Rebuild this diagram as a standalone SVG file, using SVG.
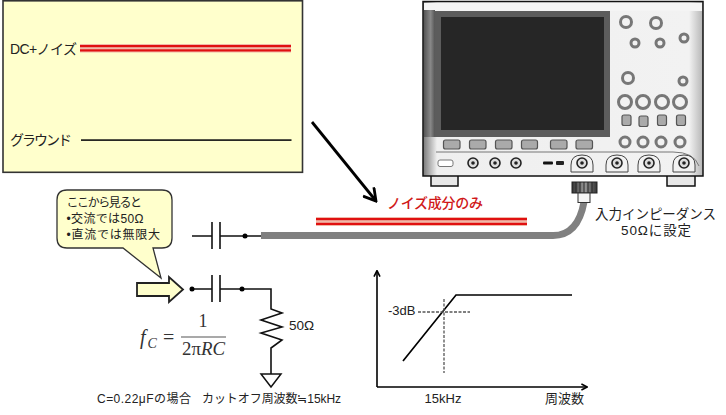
<svg xmlns="http://www.w3.org/2000/svg" width="726" height="415" viewBox="0 0 726 415">
<defs>
<linearGradient id="bodyG" x1="0" x2="1" y1="0" y2="0"><stop offset="0" stop-color="#777"/><stop offset="0.05" stop-color="#efefef"/><stop offset="0.95" stop-color="#f2f2f2"/><stop offset="1" stop-color="#b5b5b5"/></linearGradient>
<linearGradient id="stripG" x1="0" x2="1" y1="0" y2="0"><stop offset="0" stop-color="#555"/><stop offset="0.6" stop-color="#888"/><stop offset="1" stop-color="#555"/></linearGradient>
<linearGradient id="knurlG" x1="0" x2="1" y1="0" y2="0"><stop offset="0" stop-color="#333"/><stop offset="0.5" stop-color="#999"/><stop offset="1" stop-color="#333"/></linearGradient>
<marker id="ah" markerWidth="8" markerHeight="8" refX="6.6" refY="4" orient="auto" markerUnits="userSpaceOnUse"><path d="M1 1 L7 4 L1 7" fill="none" stroke="#000" stroke-width="1.6"/></marker>
<marker id="big" viewBox="0 0 16 16" markerWidth="16" markerHeight="16" refX="14" refY="8" orient="auto" markerUnits="userSpaceOnUse"><path d="M2 1 L14 8 L2 15" fill="none" stroke="#000" stroke-width="2.8"/></marker>
</defs>
<style>
text{font-family:"Liberation Sans","Noto Sans CJK JP",sans-serif;fill:#222}
.t12{font-size:12px}.t13{font-size:13px}.t14{font-size:14px}
.cjk{font-family:"Noto Sans CJK JP",sans-serif}
.math{font-family:"Liberation Serif","DejaVu Serif",serif;font-size:20px;fill:#333}
.w{fill:none;stroke:#111;stroke-width:1.6}
.b{fill:#aaa;stroke:#555;stroke-width:1.2}
.dot{fill:#000}
.r{fill:#e01010}
.rb{fill:#f0b8a8}
.d{fill:none;stroke:#555;stroke-width:1.3;stroke-dasharray:3 1.5}
.bnc{fill:#f2f2f2;stroke:#444;stroke-width:1}
</style>
<g id="panel">
<rect x="3" y="0.8" width="299.5" height="171.5" fill="#ffffcc" stroke="#333" stroke-width="1.6"/>
<rect class="rb" x="80" y="44" width="211" height="8.5"/><rect class="r" x="80" y="45" width="211" height="2.2"/><rect class="r" x="80" y="49.3" width="211" height="2.2"/>
<rect x="81" y="139.3" width="210.500" height="1.6" fill="#111"/>
<text class="t14" x="10" y="54" textLength="67" lengthAdjust="spacing">DC+ノイズ</text>
<text class="t14" x="10" y="145" textLength="62" lengthAdjust="spacing">グラウンド</text>
</g>
<g id="scope">
<rect x="431" y="174" width="27" height="12" fill="#e8e8e8" stroke="#111" stroke-width="1.5"/>
<rect x="667" y="174" width="28" height="12" fill="#e8e8e8" stroke="#111" stroke-width="1.5"/>
<rect x="423" y="1.500" width="280" height="174.500" fill="url(#bodyG)" stroke="#111" stroke-width="1.5"/>
<rect x="424" y="3" width="278" height="8" fill="#f4f4f4"/>
<rect x="424" y="10" width="11" height="127" fill="url(#stripG)"/>
<rect x="435" y="11" width="175" height="126" fill="#5c5c5c"/>
<rect x="441" y="17" width="163" height="113" fill="#262626"/>
<g class="knobs" fill="#f2f2f2" stroke="#777" stroke-width="3">
<circle cx="626" cy="22" r="5.500"/><circle cx="656" cy="23" r="5.500"/><circle cx="635" cy="43" r="4"/><circle cx="660" cy="43" r="4"/><circle cx="684" cy="38" r="4"/><circle cx="628" cy="78" r="5.500"/><circle cx="683" cy="81" r="4"/>
<circle cx="625" cy="102" r="6.500"/><circle cx="643" cy="102" r="6.500"/><circle cx="662" cy="102" r="6.500"/><circle cx="680" cy="102" r="6.500"/>
<circle cx="625" cy="142" r="5"/><circle cx="643" cy="142" r="5"/><circle cx="661" cy="142" r="5"/><circle cx="680" cy="142" r="5"/>
</g>
<rect class="b" x="622" y="115" width="9" height="10.500" rx="2"/><rect class="b" x="639" y="116" width="9" height="10.500" rx="2"/><rect class="b" x="657.500" y="115" width="9" height="10.500" rx="2"/><rect class="b" x="676.500" y="115" width="9" height="10.500" rx="2"/>
<rect class="b" x="443.500" y="140" width="16.500" height="9" rx="2"/><rect class="b" x="469.500" y="140" width="16.500" height="9" rx="2"/><rect class="b" x="495.500" y="140" width="16.500" height="9" rx="2"/><rect class="b" x="521.500" y="140" width="16" height="9" rx="2"/><rect class="b" x="550.500" y="140" width="16.500" height="9" rx="2"/><rect class="b" x="576" y="140" width="16.500" height="9" rx="2"/>
<path d="M436 152 H673 Q694 152 699 166" fill="none" stroke="#777" stroke-width="1"/>
<rect x="438" y="160" width="15" height="6.500" rx="2" fill="#fff" stroke="#777"/>
<g fill="#ddd" stroke="#222" stroke-width="1.600"><circle cx="473" cy="163" r="5"/><circle cx="495" cy="163" r="5"/><circle cx="516" cy="163" r="5"/></g>
<g fill="#222"><circle cx="473" cy="163" r="1.800"/><circle cx="495" cy="163" r="1.800"/><circle cx="516" cy="163" r="1.800"/></g>
<rect x="543" y="161.500" width="10" height="3" rx="1" fill="#111"/><rect x="556" y="161" width="8" height="4" rx="1" fill="#222"/>
<path class="bnc" d="M571 172 V165 Q571 155 582 155 Q593 155 593 165 V172 Z"/>
<path class="bnc" d="M606 172 V165 Q606 155 617 155 Q628 155 628 165 V172 Z"/>
<path class="bnc" d="M638 172 V165 Q638 155 649 155 Q660 155 660 165 V172 Z"/>
<path class="bnc" d="M673 172 V165 Q673 155 684 155 Q695 155 695 165 V172 Z"/>
<g fill="#ddd" stroke="#222" stroke-width="1.600"><circle cx="582" cy="163" r="5"/><circle cx="617" cy="163" r="5"/><circle cx="649" cy="163" r="5"/><circle cx="684" cy="163" r="5"/></g>
<g fill="#222"><circle cx="582" cy="163" r="1.800"/><circle cx="617" cy="163" r="1.800"/><circle cx="649" cy="163" r="1.800"/><circle cx="684" cy="163" r="1.800"/></g>
<rect x="572" y="182" width="25" height="11" fill="url(#knurlG)" stroke="#222"/>
<path d="M576 182 V193 M580 182 V193 M584 182 V193 M588 182 V193 M592 182 V193" stroke="#222" stroke-width="1"/>
</g>
<g id="connectors">
<path d="M261 235.500 H553 Q578 235.500 584 202" fill="none" stroke="#808080" stroke-width="7"/>
<rect x="578" y="193" width="12" height="9.500" fill="#f4f4f4" stroke="#333"/>
<path d="M312 122 L376 201" fill="none" stroke="#000" stroke-width="2.800" marker-end="url(#big)"/>
<path class="w" d="M192 236 H212 M220 236 H261"/>
<path class="w" d="M212 222 V249 M220 222 V249"/>
<circle class="dot" cx="245" cy="236" r="2.500"/>
<path class="w" d="M192 289 H212 M220 289 H271 V309 L282 313 L261 320 L282 327 L261 333 L282 340 L271 348 V374"/>
<path class="w" d="M212 275 V302 M220 275 V302"/>
<circle class="dot" cx="192" cy="289" r="2.500"/><circle class="dot" cx="242" cy="289" r="2.500"/>
</g>
<g id="ground"><path d="M261 374 H281 L271 387 Z" fill="#fff" stroke="#111" stroke-width="1.500"/></g>
<g id="noise">
<rect class="rb" x="316" y="217" width="211" height="9"/><rect class="r" x="316" y="218" width="211" height="2.200"/><rect class="r" x="316" y="222.800" width="211" height="2.200"/>
<text class="t14" x="387" y="208" textLength="96" lengthAdjust="spacing" style="fill:#d01818;font-weight:500">ノイズ成分のみ</text>
</g>
<g id="impedance">
<text class="t13" x="595" y="218.500" textLength="121" lengthAdjust="spacing" style="font-size:13.5px">入力インピーダンス</text>
<text class="t13" x="621" y="235" textLength="70" lengthAdjust="spacing" style="font-size:13.5px">50Ωに設定</text>
</g>
<g id="callout">
<path d="M67 190 H162 Q172 190 172 200 V238 Q172 248 162 248 H153 L161 278 L123 248 H67 Q57 248 57 238 V200 Q57 190 67 190 Z" fill="#ffffcc" stroke="#333" stroke-width="1.300"/>
<text class="t12" x="66.500" y="207" textLength="75.500" lengthAdjust="spacing">ここから見ると</text>
<text class="t12" x="66.500" y="223" textLength="77" lengthAdjust="spacing">•交流では50Ω</text>
<text class="t12" x="66.500" y="239" textLength="93.500" lengthAdjust="spacing">•直流では無限大</text>
</g>
<g id="inputArrow"><path d="M137 283 H169 V277 L183 289.500 L169 302 V296 H137 Z" fill="#ffffcc" stroke="#222" stroke-width="1.800"/></g>
<g id="formula">
<text class="math" x="140" y="344" font-style="italic">f</text><text class="math" x="147.500" y="348" style="font-size:14px;font-style:italic">C</text>
<text class="math" x="163" y="344">=</text>
<text class="math" x="198.500" y="327" style="font-size:18px">1</text>
<rect x="181" y="336.500" width="45" height="1" fill="#555"/>
<text class="math" x="182" y="355" textLength="43" lengthAdjust="spacingAndGlyphs" style="font-size:18px">2π<tspan font-style="italic">RC</tspan></text>
</g>
<g id="resistorLabel"><text class="t13" x="289" y="330" style="font-size:13.5px">50Ω</text></g>
<g id="caption"><text class="t12" x="97" y="403" textLength="94" lengthAdjust="spacing">C=0.22μFの場合</text><text class="t12" x="202" y="403" textLength="139" lengthAdjust="spacing">カットオフ周波数<tspan class="cjk">≒</tspan>15kHz</text></g>
<g id="graph">
<path d="M377 387 V271" fill="none" stroke="#000" stroke-width="1.600" marker-end="url(#ah)"/>
<path d="M377 387 H587" fill="none" stroke="#000" stroke-width="1.600" marker-end="url(#ah)"/>
<path d="M403 361 L456 295 H572" fill="none" stroke="#000" stroke-width="1.700"/>
<path class="d" d="M418 312 H470 M444 299 V373"/>
<text class="t13" x="388" y="315">-3dB</text>
<text class="t13" x="443" y="403" text-anchor="middle">15kHz</text>
<text class="t13" x="545" y="403">周波数</text>
</g>
</svg>
